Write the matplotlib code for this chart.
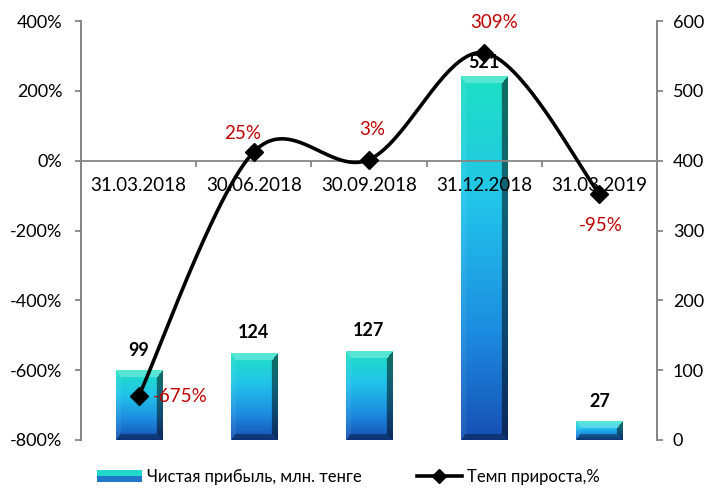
import numpy as np
import matplotlib.pyplot as plt
from matplotlib.lines import Line2D
from matplotlib.patches import Rectangle
from matplotlib.legend_handler import HandlerBase

plt.rcParams['font.family'] = ['Lato', 'Noto Sans', 'DejaVu Sans']

# ---------------- data ----------------
dates = ['31.03.2018', '30.06.2018', '30.09.2018', '31.12.2018', '31.03.2019']
profit = [99, 124, 127, 521, 27]          # млн. тенге (right axis)
growth = [-675, 25, 3, 309, -95]          # % (left axis)
pct_offsets = [(10, 0, 'left'), (-8, 13, 'center'), (2, 22, 'center'),
               (7, 22, 'center'), (1, -23, 'center')]
val_offsets = [15, 15, 15, 10, 14]

GRAY = '#868686'
RED = '#C00000'
W, H, DPI = 714, 491, 100

fig = plt.figure(figsize=(W / DPI, H / DPI), dpi=DPI)
ax = fig.add_axes([81 / W, 51 / H, 576 / W, 419 / H])   # bars, right scale
axl = ax.twinx()                                         # line, left scale
ax.yaxis.tick_right()
axl.yaxis.tick_left()
ax.set_zorder(1)
axl.set_zorder(2)
axl.patch.set_visible(False)

x = np.arange(len(dates))
bar_w = 0.4
px_per_cat = 576 / 5
px_per_val = 419 / 600


# ---------- gradient bars with bevel ----------
stops_t = [0.0, 0.35, 0.7, 1.0]
stops_c = np.array([[30, 224, 196], [34, 196, 234], [28, 140, 224], [22, 80, 180]]) / 255


def bar_image(h_px, w_px, b=7):
    ys = np.arange(h_px)[:, None] * np.ones((1, w_px))
    xs = np.ones((h_px, 1)) * np.arange(w_px)[None, :]
    t = (ys + 0.5) / h_px
    img = np.stack([np.interp(t, stops_t, stops_c[:, k]) for k in range(3)], axis=-1)
    d = np.stack([ys * 1.0, xs * 1.6, (w_px - 1 - xs) * 1.3, (h_px - 1 - ys) * 1.2])  # top, left, right, bottom
    near = np.argmin(d, axis=0)
    inside = np.min(d, axis=0) < b
    white, black = np.ones(3), np.zeros(3)
    for k, (tgt, a) in enumerate([(white, 0.25), (white, 0.06), (black, 0.5), (black, 0.35)]):
        m = inside & (near == k)
        img[m] = img[m] * (1 - a) + tgt * a
    return img


for xi, v in zip(x, profit):
    h_px = max(int(round(v * px_per_val)), 2)
    w_px = int(round(bar_w * px_per_cat))
    ax.imshow(bar_image(h_px, w_px), extent=(xi - bar_w / 2, xi + bar_w / 2, 0, v),
              aspect='auto', origin='upper', zorder=2, interpolation='bilinear')

for xi, v, off in zip(x, profit, val_offsets):
    ax.annotate(str(v), (xi, v), xytext=(0, off), textcoords='offset points',
                ha='center', va='center', fontsize=13, fontweight='bold', zorder=5)

ax.set_xlim(-0.5, 4.5)
ax.set_ylim(0, 600)
ax.set_yticks(range(0, 601, 100))

# ---------- smoothed line (Excel-style bezier) ----------
k = (419 / 1200) / px_per_cat
P = np.column_stack([x, np.array(growth) * k]).astype(float)
Pe = np.vstack([P[0], P, P[-1]])
curve = []
tt = np.linspace(0, 1, 60)[:, None]
for i in range(len(P) - 1):
    p0, p1, p2, p3 = Pe[i], Pe[i + 1], Pe[i + 2], Pe[i + 3]
    c1 = p1 + (p2 - p0) / 6
    c2 = p2 - (p3 - p1) / 6
    seg = ((1 - tt) ** 3) * p1 + 3 * ((1 - tt) ** 2) * tt * c1 + 3 * (1 - tt) * tt ** 2 * c2 + tt ** 3 * p2
    curve.append(seg)
curve = np.vstack(curve)
axl.plot(curve[:, 0], curve[:, 1] / k, color='black', lw=2.6, zorder=4, solid_capstyle='round')
axl.plot(x, growth, ls='none', marker='D', ms=9, color='black', zorder=5)

for xi, g, (dx, dy, ha) in zip(x, growth, pct_offsets):
    axl.annotate(f'{g}%', (xi, g), xytext=(dx, dy), textcoords='offset points',
                 ha=ha, va='center', fontsize=13.5, color=RED, zorder=6)

# zero line acting as category axis
axl.axhline(0, color=GRAY, lw=1.3, zorder=3)
axl.vlines(np.arange(-0.5, 5, 1), -17, 0, color=GRAY, lw=1.3, zorder=3)
for xi, d in zip(x, dates):
    axl.annotate(d, (xi, 0), xytext=(0, -12), textcoords='offset points',
                 ha='center', va='top', fontsize=13.5, zorder=6)

axl.set_xlim(-0.5, 4.5)
axl.set_ylim(-800, 400)
axl.set_yticks(range(-800, 401, 200))
axl.set_yticklabels([f'{v}%' for v in range(-800, 401, 200)])

for a in (ax, axl):
    a.set_xticks([])
    a.spines['top'].set_visible(False)
    a.spines['bottom'].set_visible(False)
    for s in ('left', 'right'):
        a.spines[s].set_color(GRAY)
        a.spines[s].set_linewidth(1.3)
    a.tick_params(axis='y', length=4.5, width=1.3, color=GRAY, labelsize=13)
axl.tick_params(axis='y', pad=9)
ax.tick_params(axis='y', pad=7)


# ---------- legend ----------
class GradHandler(HandlerBase):
    def create_artists(self, legend, orig, xd, yd, width, height, fontsize, trans):
        top = Rectangle((xd, yd + height * 0.5), width, height * 0.5,
                        facecolor='#22d8cc', edgecolor='none', transform=trans)
        bot = Rectangle((xd, yd), width, height * 0.5,
                        facecolor='#1f78c8', edgecolor='none', transform=trans)
        return [bot, top]


bar_handle = Rectangle((0, 0), 1, 1)
line_handle = Line2D([], [], color='black', lw=2.6, marker='D', ms=7)
fig.legend([bar_handle, line_handle],
           ['Чистая прибыль, млн. тенге', 'Темп прироста,%'],
           handler_map={Rectangle: GradHandler()},
           loc='center', bbox_to_anchor=(0.488, 0.029), ncol=2, frameon=False,
           fontsize=12, handlelength=2.7, handletextpad=0.3, columnspacing=3.3)

fig.savefig('out.png', dpi=DPI)
